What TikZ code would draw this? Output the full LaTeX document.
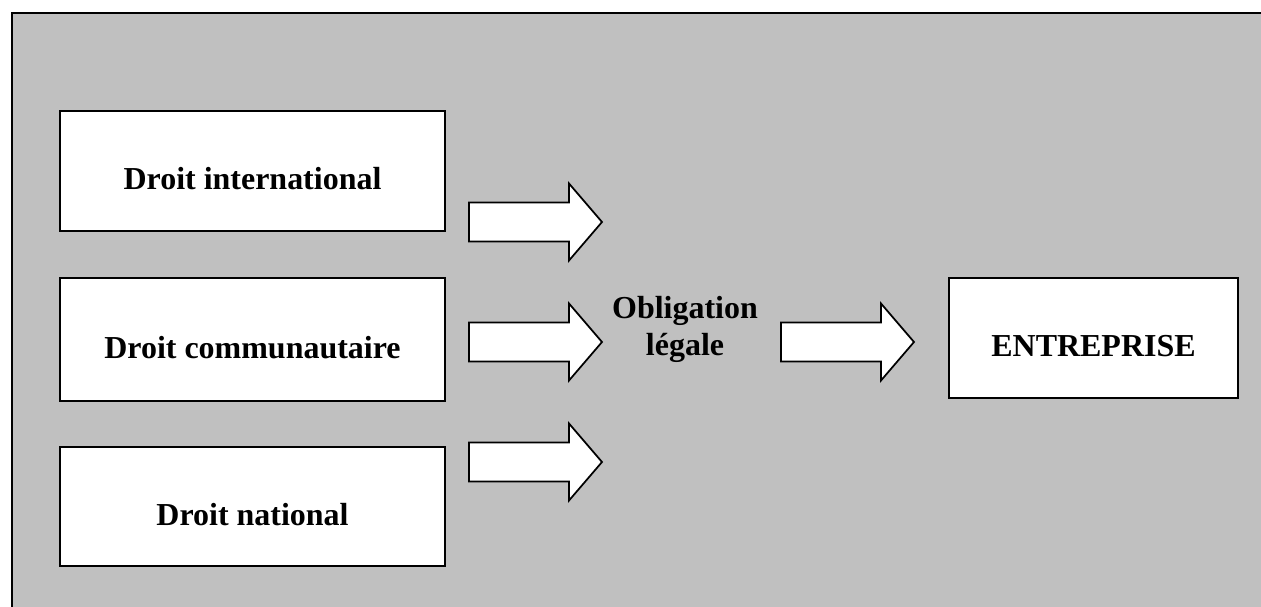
\documentclass[tikz,border=0pt]{standalone}
\usepackage{fontspec}
\setmainfont{Liberation Serif}
\definecolor{panelgray}{RGB}{192,192,192}
\tikzset{
  frame/.style={draw=black, line width=1.4pt, fill=panelgray},
  lawbox/.style={draw=black, line width=1.5pt, fill=white, rectangle,
    inner sep=0pt, text height=21.2pt, text depth=0pt,
    font=\bfseries\fontsize{18.2}{21}\selectfont},
  blockarr/.style={draw=black, line width=1pt, fill=white, line join=miter},
  caption/.style={align=center, inner sep=0pt,
    font=\bfseries\fontsize{18.2}{21.2}\selectfont}
}
% hollow block arrow: tail centre at (#1,#2)
\newcommand\blockarrow[2]{%
  \draw[blockarr] (#1,#2-19.5) -- (#1+100,#2-19.5) -- (#1+100,#2-38.5)
    -- (#1+133,#2) -- (#1+100,#2+38.5) -- (#1+100,#2+19.5)
    -- (#1,#2+19.5) -- cycle;}
\begin{document}
\begin{tikzpicture}[x=0.02cm, y=-0.02cm]
  \useasboundingbox (0,0) rectangle (1261,606);
  \begin{scope}
    \clip (0,0) rectangle (1261,606);
    \draw[frame] (12,13) rectangle (1280,625);
  \end{scope}

  % sources of law
  \node[lawbox, minimum width=7.7cm, minimum height=2.4cm]
    (intl) at (252.5,171) {Droit international};
  \node[lawbox, minimum width=7.7cm, minimum height=2.46cm]
    (comm) at (252.5,339.5) {Droit communautaire};
  \node[lawbox, minimum width=7.7cm, minimum height=2.38cm]
    (natl) at (252.5,506.5) {Droit national};

  % target
  \node[lawbox, minimum width=5.78cm, minimum height=2.4cm]
    (firm) at (1093.5,338) {ENTREPRISE};

  % legal obligation
  \node[caption, anchor=north] (oblig) at (685,295.5) {Obligation\\légale};

  % block arrows
  \blockarrow{469}{222}
  \blockarrow{469}{342}
  \blockarrow{469}{462}
  \blockarrow{781}{342}
\end{tikzpicture}
\end{document}
